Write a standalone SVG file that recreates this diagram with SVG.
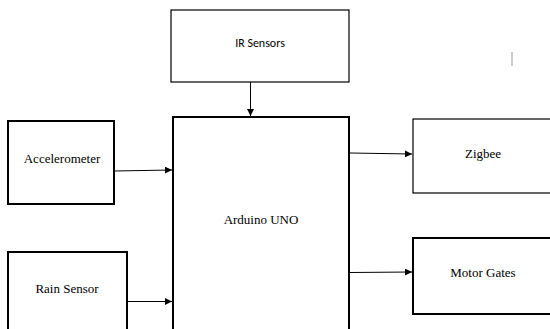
<svg xmlns="http://www.w3.org/2000/svg" width="550" height="329" viewBox="0 0 550 329">
<style>
.box{fill:#fff;stroke:#000}
.thin{stroke-width:1.2}
.thick{stroke-width:2}
.conn{stroke:#000;stroke-width:1;fill:none;marker-end:url(#arr)}
</style>
<defs>
<marker id="arr" viewBox="0 0 10 10" refX="10" refY="5" markerWidth="7" markerHeight="7" markerUnits="userSpaceOnUse" orient="auto">
<path d="M0,0 L10,5 L0,10 z" fill="#000"/>
</marker>
</defs>
<rect width="550" height="329" fill="#fff"/>
<g id="ir-sensors">
<rect class="box thin" x="171" y="10" width="178" height="72"/>
<text x="260" y="47" font-family="Carlito, 'Liberation Sans', Arial, sans-serif" font-size="12" text-anchor="middle" fill="#000">IR Sensors</text>
</g>
<g id="arduino">
<rect class="box thick" x="173" y="117" width="176" height="220"/>
<text x="261" y="223.5" font-family="'Liberation Serif', 'DejaVu Serif', serif" font-size="13" text-anchor="middle" fill="#000">Arduino UNO</text>
</g>
<g id="accelerometer">
<rect class="box thick" x="8" y="121" width="106" height="83"/>
<text x="62" y="162.5" font-family="'Liberation Serif', 'DejaVu Serif', serif" font-size="13" text-anchor="middle" fill="#000">Accelerometer</text>
</g>
<g id="rain-sensor">
<rect class="box thick" x="8" y="252" width="119" height="90"/>
<text x="67" y="292.5" font-family="'Liberation Serif', 'DejaVu Serif', serif" font-size="13" text-anchor="middle" fill="#000">Rain Sensor</text>
</g>
<g id="zigbee">
<rect class="box thin" x="413" y="119" width="150" height="74"/>
<text x="483" y="157.5" font-family="'Liberation Serif', 'DejaVu Serif', serif" font-size="13" text-anchor="middle" fill="#000">Zigbee</text>
</g>
<g id="motor-gates">
<rect class="box thick" x="413" y="238" width="150" height="76"/>
<text x="483" y="276.5" font-family="'Liberation Serif', 'DejaVu Serif', serif" font-size="13" text-anchor="middle" fill="#000">Motor Gates</text>
</g>
<g id="connectors">
<line class="conn" x1="250.5" y1="82" x2="250.5" y2="116"/>
<line class="conn" x1="114" y1="171" x2="172" y2="170"/>
<line class="conn" x1="127" y1="301.5" x2="172" y2="301.5"/>
<line class="conn" x1="350" y1="153" x2="412" y2="154"/>
<line class="conn" x1="350" y1="272.5" x2="412" y2="272"/>
</g>
<line x1="512" y1="52" x2="512" y2="66" stroke="#999" stroke-width="1"/>
</svg>
